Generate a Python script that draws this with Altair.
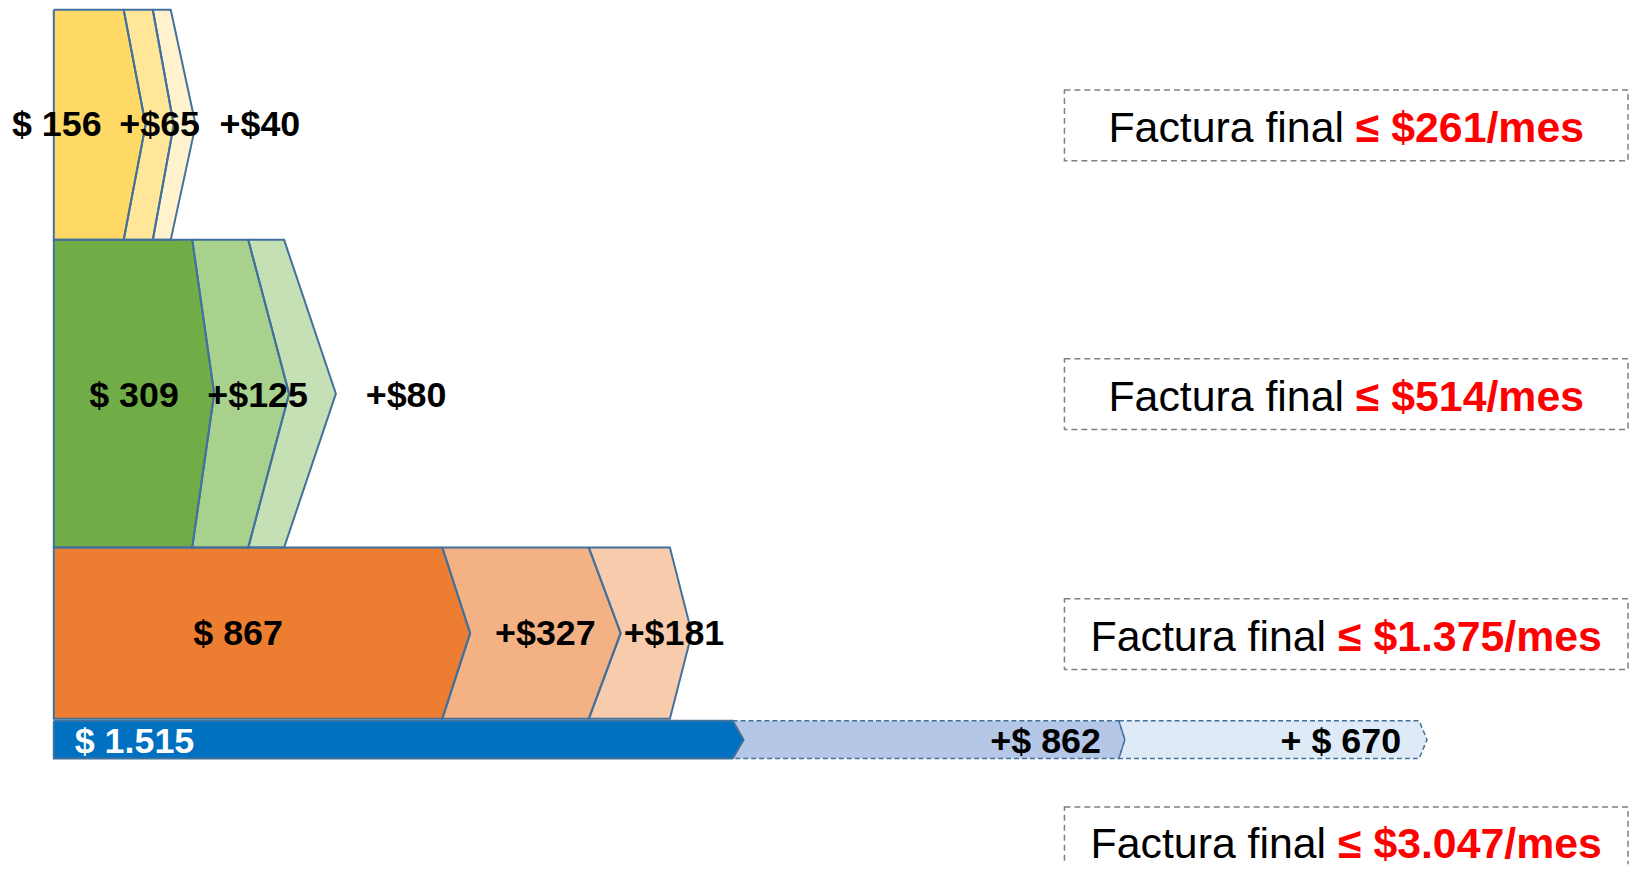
import altair as alt
import pandas as pd

# ---------------- data ----------------
tiers = ["Tramo 1", "Tramo 2", "Tramo 3", "Tramo 4"]
base_values = [156, 309, 867, 1515]
step1_values = [65, 125, 327, 862]
step2_values = [40, 80, 181, 670]
base_labels = ["$ 156", "$ 309", "$ 867", "$ 1.515"]
step1_labels = ["+$65", "+$125", "+$327", "+$ 862"]
step2_labels = ["+$40", "+$80", "+$181", "+ $ 670"]
bill_prefix = "Factura final"
bill_labels = ["≤ $261/mes", "≤ $514/mes", "≤ $1.375/mes", "≤ $3.047/mes"]

# ---------------- layout & style ----------------
W, H = 1628, 858
PX_PER_USD = 0.45
X0_PX = 46
row_top = [0, 231, 540, 714]
row_bottom = [231, 540, 712, 752]
tip_px = [[22, 21, 25], [22, 41, 52], [28, 32, 22], [11, 6, 8]]
fills = [
    ["#FFD966", "#FFE699", "#FFF2CC"],
    ["#70AD47", "#A9D18E", "#C5E0B4"],
    ["#ED7D31", "#F4B183", "#F8CBAD"],
    ["#0070C0", "#B4C7E7", "#DEEBF7"],
]
dashed = [[False] * 3, [False] * 3, [False] * 3, [False, True, True]]
label_place = [
    [("left", "start", -42), ("center", "chev", 0), ("left", "tip", 24)],
    [("center", "chev", 0), ("center", "chev", 6), ("left", "tip", 30)],
    [("center", "rect", -10), ("center", "chev", 0), ("left", "prevtip", 3)],
    [("left", "start", 21), ("right", "end", -18), ("right", "end", -18)],
]
label_dy = [0, 2, 1, 2]
label_colors = [["black"] * 3, ["black"] * 3, ["black"] * 3, ["white", "black", "black"]]
OUTLINE = "#41719C"
FONT = "Liberation Sans"
LABEL_SIZE = 36
BOX_SIZE = 43
box_x = (1061, 1627)
box_mid = [116, 386, 627, 836]
box_text_dy = [4, 4, 4, 3]
box_h = 71

k = PX_PER_USD
xscale = alt.Scale(domain=[-X0_PX / k, (W - X0_PX) / k], nice=False, zero=False)
yscale = alt.Scale(domain=[0, H], nice=False, zero=False, reverse=True)

area_rows, line_rows, label_rows = [], [], []
for r in range(len(tiers)):
    vals = [base_values[r], step1_values[r], step2_values[r]]
    texts = [base_labels[r], step1_labels[r], step2_labels[r]]
    edges = [0, vals[0], vals[0] + vals[1], vals[0] + vals[1] + vals[2]]
    top, bot = row_top[r], row_bottom[r]
    mid = (top + bot) / 2
    for s in range(3):
        sid = f"{r}-{s}"
        x0, x1 = edges[s], edges[s + 1]
        d = tip_px[r][s] / k
        dp = tip_px[r][s - 1] / k if s > 0 else 0
        for yy, xa, xb in [(top, x0, x1), (mid, x0 + dp, x1 + d), (bot, x0, x1)]:
            area_rows.append(dict(sid=sid, y=yy, xa=xa, xb=xb, fill=fills[r][s]))
        pts = [(x0, top), (x1, top), (x1 + d, mid), (x1, bot), (x0, bot), (x0 + dp, mid), (x0, top)]
        for o, (px, py) in enumerate(pts):
            line_rows.append(dict(sid=sid, x=px, y=py, ord=o, dashed=dashed[r][s]))
        align, mode, dx = label_place[r][s]
        if mode == "start":
            lx = x0 + dx / k
        elif mode == "chev":
            lx = (x0 + dp + x1 + d) / 2 + dx / k
        elif mode == "rect":
            lx = (x0 + x1) / 2 + dx / k
        elif mode == "tip":
            lx = x1 + d + dx / k
        elif mode == "prevtip":
            lx = x0 + dp + dx / k
        else:
            lx = x1 + dx / k
        label_rows.append(dict(x=lx, y=mid + label_dy[r], text=texts[s], align=align,
                               color=label_colors[r][s]))

area_df = pd.DataFrame(area_rows)
line_df = pd.DataFrame(line_rows)
label_df = pd.DataFrame(label_rows)

# text width estimate (Arial metrics) to centre the two-part box text
reg_w = 5.78 * BOX_SIZE  # "Factura final " regular
bold_em = {"≤": 0.549, " ": 0.278, "$": 0.556, ".": 0.278, "/": 0.278,
           "m": 0.889, "e": 0.556, "s": 0.556}
box_rows = []
bcenter = (box_x[0] + box_x[1]) / 2
for i, lab in enumerate(bill_labels):
    bw = sum(bold_em.get(c, 0.556) for c in lab) * BOX_SIZE
    start = bcenter - (reg_w + bw) / 2
    split_px = start + reg_w
    box_rows.append(dict(
        top=box_mid[i] - box_h / 2, bottom=box_mid[i] + box_h / 2,
        ty=box_mid[i] + box_text_dy[i],
        xs=(split_px - X0_PX) / k,
        xr=(split_px - 0.278 * BOX_SIZE - X0_PX) / k,
        prefix=bill_prefix, bold=lab))
box_df = pd.DataFrame(box_rows)

X = lambda f: alt.X(f, scale=xscale, axis=None, stack=None)
Y = lambda f: alt.Y(f, scale=yscale, axis=None)

fill_layer = alt.Chart(area_df).mark_area(orient="horizontal", interpolate="linear", opacity=1).encode(
    y=Y("y:Q"), x=X("xa:Q"), x2="xb:Q", detail="sid:N",
    color=alt.Color("fill:N", scale=None),
)

solid_lines = alt.Chart(line_df).transform_filter("!datum.dashed").mark_line(
    color=OUTLINE, strokeWidth=2, strokeJoin="miter", interpolate="linear"
).encode(x=X("x:Q"), y=Y("y:Q"), detail="sid:N", order="ord:Q")

dashed_lines = alt.Chart(line_df).transform_filter("datum.dashed").mark_line(
    color=OUTLINE, strokeWidth=1.5, strokeDash=[5, 3], strokeJoin="miter", interpolate="linear"
).encode(x=X("x:Q"), y=Y("y:Q"), detail="sid:N", order="ord:Q")

label_layers = []
for al in ["left", "center", "right"]:
    label_layers.append(
        alt.Chart(label_df).transform_filter(f"datum.align == '{al}'").mark_text(
            font=FONT, fontSize=LABEL_SIZE, fontWeight="bold", align=al, baseline="middle"
        ).encode(x=X("x:Q"), y=Y("y:Q"), text="text:N", color=alt.Color("color:N", scale=None))
    )

boxes = alt.Chart(box_df).mark_rect(
    fill="white", fillOpacity=0, stroke="#7F7F7F", strokeWidth=1.5, strokeDash=[6, 4], clip=True
).encode(x=alt.value(box_x[0]), x2=alt.value(box_x[1]), y=Y("top:Q"), y2="bottom:Q")

box_prefix = alt.Chart(box_df).mark_text(
    font=FONT, fontSize=BOX_SIZE, align="right", baseline="middle", color="black"
).encode(x=X("xr:Q"), y=Y("ty:Q"), text="prefix:N")

box_bold = alt.Chart(box_df).mark_text(
    font=FONT, fontSize=BOX_SIZE, fontWeight="bold", align="left", baseline="middle", color="#FF0000"
).encode(x=X("xs:Q"), y=Y("ty:Q"), text="bold:N")

chart = alt.layer(
    fill_layer, solid_lines, dashed_lines, *label_layers, boxes, box_prefix, box_bold
).properties(
    width=W, height=H, padding=0,
    autosize=alt.AutoSizeParams(type="none"),
).configure(background="white").configure_view(stroke=None)

chart.save("out.html", embed_options={"renderer": "svg", "actions": False})
